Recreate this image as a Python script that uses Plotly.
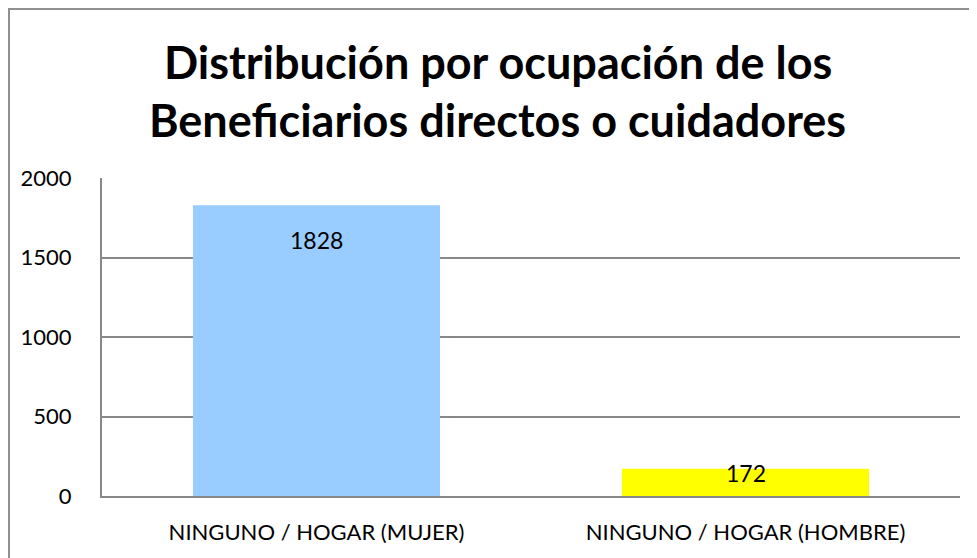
import plotly.graph_objects as go

categories = ["NINGUNO / HOGAR (MUJER)", "NINGUNO / HOGAR (HOMBRE)"]
values = [1828, 172]
colors = ["#99CCFF", "#FFFF00"]
label_shift = [-35, -4]
y_ticks = [0, 500, 1000, 1500, 2000]
title_lines = ["Distribución por ocupación de los", "Beneficiarios directos o cuidadores"]

FONT = "Lato, 'Open Sans', sans-serif"

fig = go.Figure()
fig.add_trace(go.Bar(
    x=categories, y=values, marker=dict(color=colors, line=dict(width=0)),
    width=0.576, hoverinfo="x+y"
))

for c, v, s in zip(categories, values, label_shift):
    fig.add_annotation(x=c, y=v, text=str(v), showarrow=False, yshift=s,
                       font=dict(family=FONT, size=23, color="#000"))

for line, yp in zip(title_lines, [1.365, 1.183]):
    fig.add_annotation(xref="paper", yref="paper", x=0.4615, y=yp, text=f"<b>{line}</b>",
                       showarrow=False, xanchor="center", yanchor="middle",
                       font=dict(family=FONT, size=45, color="#000"))

fig.update_layout(
    width=969, height=550,
    margin=dict(l=94, r=17, t=170, b=62),
    paper_bgcolor="white", plot_bgcolor="white",
    showlegend=False,
    xaxis=dict(showline=True, linecolor="#888888", linewidth=2, showgrid=False,
               ticks="", tickfont=dict(family=FONT, size=22, color="#000"),
               ticklabelstandoff=16),
    yaxis=dict(range=[0, 2000], tickvals=y_ticks, showline=True, linecolor="#888888",
               linewidth=2, showgrid=True, gridcolor="#888888", gridwidth=2,
               zeroline=False, ticks="", tickfont=dict(family=FONT, size=22, color="#000"),
               ticklabelstandoff=24),
    shapes=[dict(type="rect", xref="paper", yref="paper", x0=(1 - 94) / 858, x1=1.5,
                 y0=-1, y1=1 + (170 - 1) / 318, line=dict(color="#909090", width=2),
                 layer="below")],
)

fig.write_html("out.html")
